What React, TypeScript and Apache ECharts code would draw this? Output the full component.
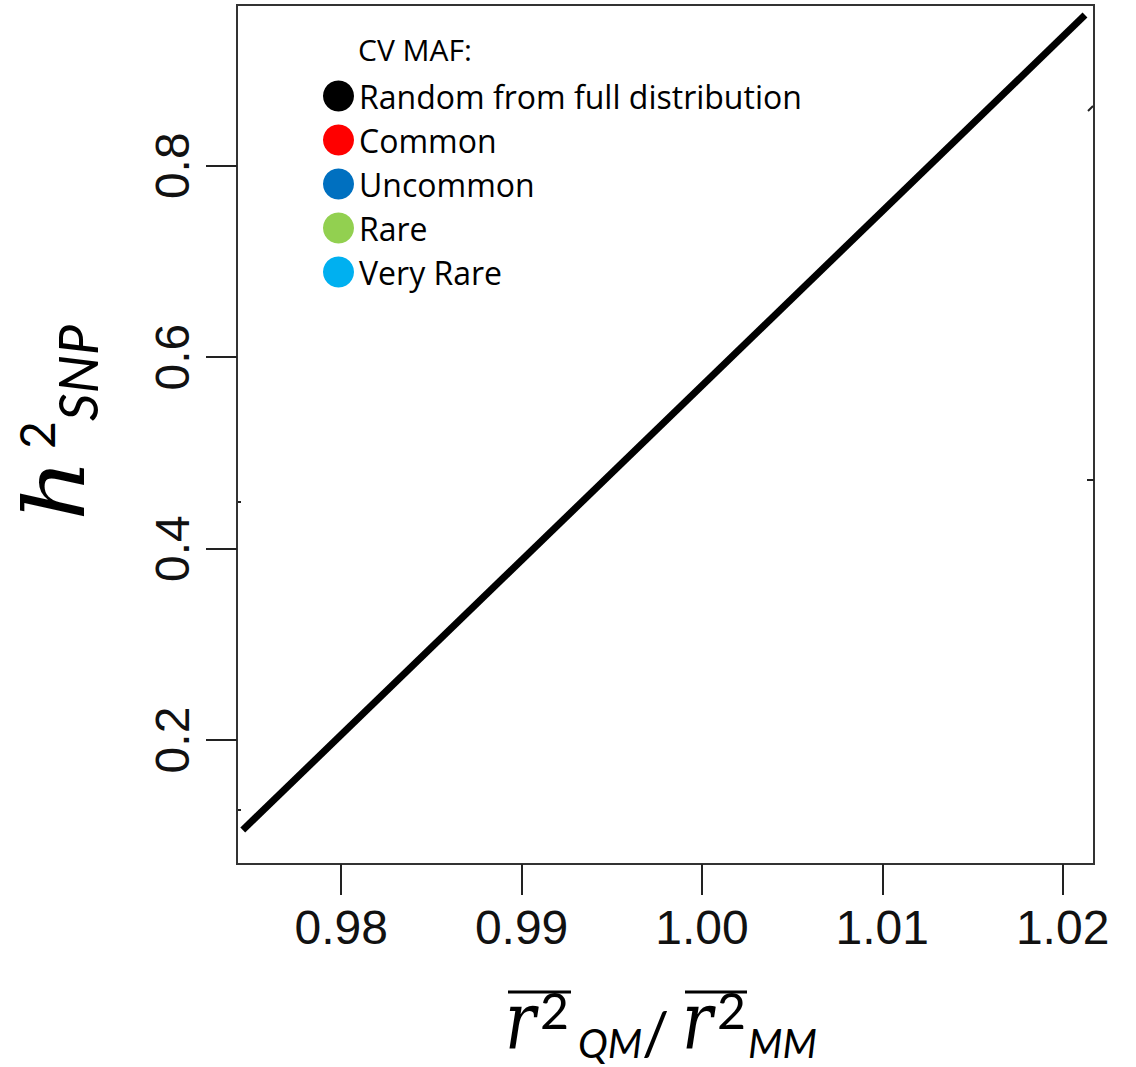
import React, { useEffect, useRef } from "react";
import * as echarts from "echarts";

const xTicks = [0.98, 0.99, 1.0, 1.01, 1.02];
const yTicks = [0.2, 0.4, 0.6, 0.8];
const xRange = [0.97422, 1.02174];
const yRange = [0.0705, 0.9679];
const lineX = [0.97454, 1.02124];
const lineY = [0.106, 0.9574];
const legendTitle = "CV MAF:";
const legendNames = ["Random from full distribution", "Common", "Uncommon", "Rare", "Very Rare"];
const legendColors = ["#000000", "#FF0000", "#0070C0", "#92D050", "#00B0F0"];

const MATH = "DejaVu Serif";
const SANS = "Lato";
const LEG = "Open Sans";

export default function App() {
  const ref = useRef<HTMLDivElement>(null);
  useEffect(() => {
    if (!ref.current) return;
    const chart = echarts.init(ref.current, null, { renderer: "svg" });
    const lineData = lineX.map((x, i) => [x, lineY[i]]);
    const series: any[] = [
      {
        name: legendNames[0],
        type: "line",
        data: lineData,
        color: legendColors[0],
        symbol: "none",
        showSymbol: false,
        lineStyle: { width: 7, color: legendColors[0], cap: "butt" },
      },
    ];
    for (let i = 1; i < legendNames.length; i++) {
      series.push({
        name: legendNames[i], type: "scatter", data: [], color: legendColors[i],
        itemStyle: { color: legendColors[i], opacity: 1 },
      });
    }
    const mid = (fs: number) => 0.33 * fs;
    const option: any = {
      animation: false,
      backgroundColor: "#ffffff",
      grid: {
        left: 237, top: 5, right: 42, bottom: 203,
        show: true, borderColor: "#333", borderWidth: 2, backgroundColor: "transparent",
      },
      xAxis: {
        type: "value",
        min: xRange[0],
        max: xRange[1],
        axisLine: { show: true, onZero: false, lineStyle: { color: "#333", width: 2 } },
        axisTick: { show: true, length: 31, lineStyle: { color: "#222", width: 2 }, customValues: xTicks },
        axisLabel: {
          customValues: xTicks,
          formatter: (v: number) => v.toFixed(2),
          fontFamily: "Liberation Sans",
          fontSize: 48,
          color: "#111",
          margin: 39,
        },
        splitLine: { show: false },
      },
      yAxis: {
        type: "value",
        min: yRange[0],
        max: yRange[1],
        axisLine: { show: true, onZero: false, lineStyle: { color: "#333", width: 2 } },
        axisTick: { show: true, length: 31, lineStyle: { color: "#222", width: 2 }, customValues: yTicks },
        axisLabel: {
          customValues: yTicks,
          formatter: (v: number) => v.toFixed(1),
          fontFamily: "Liberation Sans",
          fontSize: 48,
          color: "#111",
          rotate: 90,
          margin: 41,
        },
        splitLine: { show: false },
      },
      legend: {
        orient: "vertical",
        left: 318,
        top: 75,
        icon: "circle",
        itemWidth: 31,
        itemHeight: 31,
        itemGap: 12,
        selectedMode: false,
        data: legendNames,
        textStyle: { fontFamily: LEG, fontSize: 32, color: "#000" },
      },
      graphic: [
        {
          type: "text", x: 358, y: 49,
          style: { text: legendTitle, font: `30px '${LEG}'`, fill: "#000", verticalAlign: "middle", align: "left" },
        },
        // y-axis name: h^2_SNP rotated
        {
          type: "group", x: 82, y: 521, rotation: Math.PI / 2,
          children: [
            { type: "text", x: 0, y: -mid(84), scaleX: 1.15, style: { text: "h", font: `italic 84px '${MATH}'`, fill: "#000", verticalAlign: "middle", align: "left" } },
            { type: "text", x: 72, y: -30 - mid(48), style: { text: "2", font: `48px ${SANS}`, fill: "#000", verticalAlign: "middle", align: "left" } },
            { type: "text", x: 100, y: 13 - mid(54), style: { text: "SNP", font: `italic 54px ${SANS}`, fill: "#000", verticalAlign: "middle", align: "left" } },
          ],
        },
        // x-axis name: overline r^2_QM / overline r^2_MM
        { type: "text", x: 505, y: 1048 - mid(80), scaleX: 0.8, style: { text: "r", font: `italic 80px '${MATH}'`, fill: "#000", verticalAlign: "middle", align: "left" } },
        { type: "text", x: 540, y: 1026 - mid(50), style: { text: "2", font: `50px ${SANS}`, fill: "#000", verticalAlign: "middle", align: "left" } },
        { type: "text", x: 578, y: 1056 - mid(40), style: { text: "QM", font: `italic 40px ${SANS}`, fill: "#000", verticalAlign: "middle", align: "left" } },
        { type: "text", x: 642, y: 1052 - mid(60), style: { text: "/", font: `60px ${SANS}`, fill: "#000", verticalAlign: "middle", align: "left" } },
        { type: "text", x: 682, y: 1048 - mid(80), scaleX: 0.8, style: { text: "r", font: `italic 80px '${MATH}'`, fill: "#000", verticalAlign: "middle", align: "left" } },
        { type: "text", x: 717, y: 1026 - mid(50), style: { text: "2", font: `50px ${SANS}`, fill: "#000", verticalAlign: "middle", align: "left" } },
        { type: "text", x: 748, y: 1056 - mid(40), style: { text: "MM", font: `italic 40px ${SANS}`, fill: "#000", verticalAlign: "middle", align: "left" } },
        { type: "line", shape: { x1: 508, y1: 992, x2: 571, y2: 992 }, style: { stroke: "#000", lineWidth: 3 } },
        { type: "line", shape: { x1: 685, y1: 992, x2: 747, y2: 992 }, style: { stroke: "#000", lineWidth: 3 } },
        // small stray tick marks on the frame
        { type: "line", shape: { x1: 237, y1: 502, x2: 241, y2: 502 }, style: { stroke: "#222", lineWidth: 2 } },
        { type: "line", shape: { x1: 237, y1: 810, x2: 241, y2: 810 }, style: { stroke: "#222", lineWidth: 2 } },
        { type: "line", shape: { x1: 1087, y1: 480, x2: 1094, y2: 480 }, style: { stroke: "#222", lineWidth: 2 } },
        { type: "line", shape: { x1: 1088, y1: 111, x2: 1093, y2: 106 }, style: { stroke: "#222", lineWidth: 2 } },
      ],
      series,
    };
    chart.setOption(option);
    return () => chart.dispose();
  }, []);
  return (
    <div
      ref={ref}
      style={{ position: "fixed", left: 0, top: 0, width: 1136, height: 1067, background: "#fff" }}
    />
  );
}
